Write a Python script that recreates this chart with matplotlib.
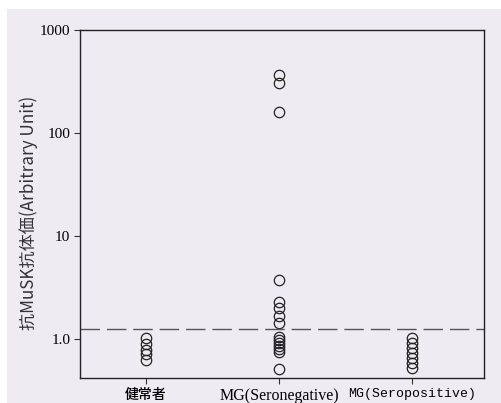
import matplotlib
matplotlib.use("Agg")
import matplotlib.pyplot as plt
from matplotlib.patches import Rectangle

# groups and values (arbitrary unit)
groups = ["健常者", "MG(Seronegative)", "MG(Seropositive)"]
healthy = [1.02, 0.89, 0.79, 0.71, 0.62]
seroneg = [366, 306, 160, 3.74, 2.3, 1.98, 1.68, 1.42,
           1.05, 0.97, 0.91, 0.85, 0.80, 0.75, 0.51]
seropos = [1.02, 0.91, 0.82, 0.73, 0.66, 0.58, 0.52]
cutoff = 1.25
yticks = [1.0, 10, 100, 1000]
ytick_labels = ["1.0", "10", "100", "1000"]

fig = plt.figure(figsize=(5.02, 4.03), dpi=100, facecolor="white")
# lavender scan background
fig.patches.append(Rectangle((7 / 502, 0), 1, 1 - 9 / 403, transform=fig.transFigure,
                             facecolor="#eeebf2", edgecolor="none", zorder=-10))
ax = fig.add_axes([0.1594, 0.062, 0.8048, 0.8635])
ax.set_facecolor("#eeebf2")

for i, vals in enumerate([healthy, seroneg, seropos]):
    ax.plot([i + 1] * len(vals), vals, linestyle="none", marker="o", markersize=7.5,
            markerfacecolor="none", markeredgecolor="#222222", markeredgewidth=0.9)

ax.axhline(cutoff, color="#555555", lw=1.0, dashes=(14, 5))

ax.set_yscale("log")
ax.set_ylim(0.418, 1000)
ax.set_xlim(0.504, 3.54)
ax.set_yticks(yticks)
ax.set_yticklabels(ytick_labels, family="Liberation Serif", fontsize=11)
ax.minorticks_off()
ax.set_xticks([1, 2, 3])
ax.set_xticklabels(groups, fontsize=10)
labs = ax.get_xticklabels()
labs[0].set_family(["Noto Sans CJK JP"])
labs[0].set_fontweight("medium")
labs[0].set_fontsize(10)
labs[1].set_family(["Liberation Serif"])
labs[1].set_fontsize(11.5)
labs[2].set_family(["Liberation Mono"])
labs[2].set_fontsize(9.5)
ax.tick_params(direction="out", length=4, width=0.8, color="#333333", pad=3)

for s in ax.spines.values():
    s.set_linewidth(1.0)
    s.set_color("#222222")

ax.set_ylabel("抗MuSK抗体価(Arbitrary Unit)", family=["Noto Sans CJK JP", "DejaVu Sans"],
              fontsize=12.3, color="#333333")
ax.yaxis.set_label_coords(-0.105, 0.474)

fig.savefig("out.png", dpi=100, facecolor=fig.get_facecolor())
